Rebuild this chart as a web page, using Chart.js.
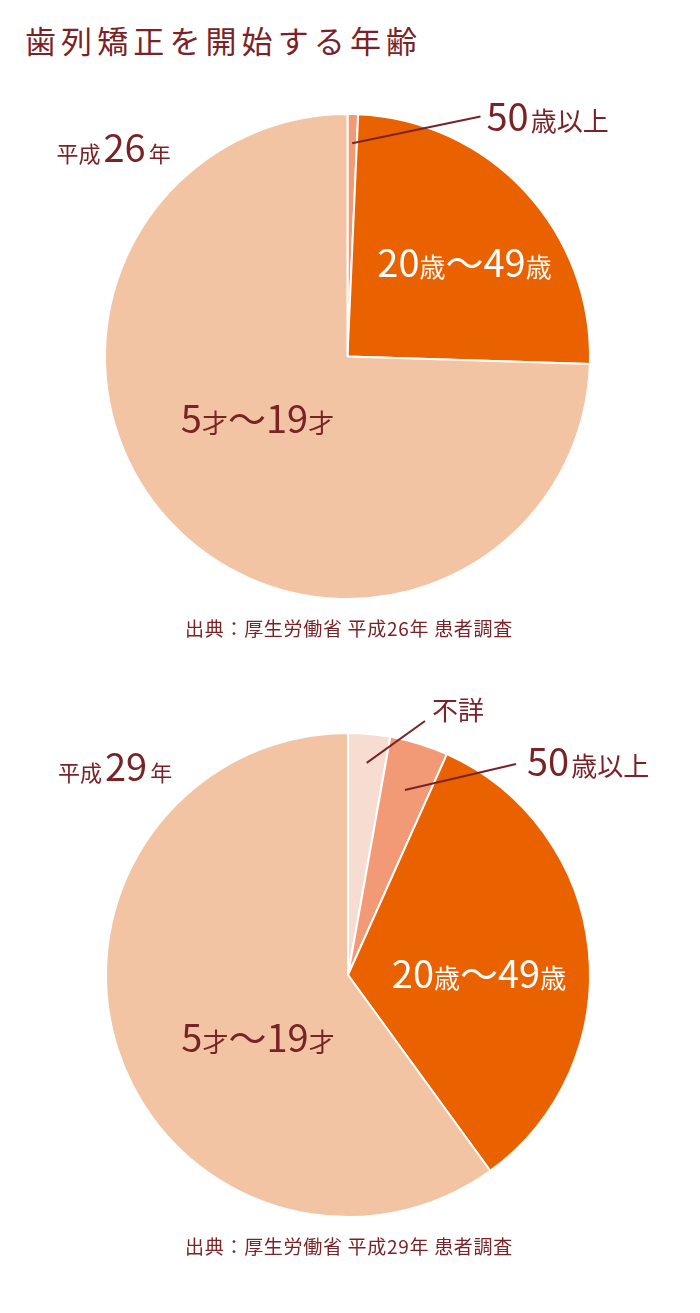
<!DOCTYPE html>
<html lang="ja">
<head>
<meta charset="utf-8">
<title>歯列矯正を開始する年齢</title>
<script src="https://cdn.jsdelivr.net/npm/chart.js@4/dist/chart.umd.min.js"></script>
<style>
  html, body { margin: 0; padding: 0; background: #fff; }
  body { width: 700px; height: 1313px; position: relative; overflow: hidden;
         font-family: "Noto Sans CJK JP", "Noto Sans", sans-serif; color: #7a2327; }
  .title { position: absolute; left: 25px; top: 24px; font-size: 31px; line-height: 1;
           letter-spacing: 5.1px; white-space: nowrap; }
  .source { position: absolute; left: 0; width: 698px; text-align: center; font-size: 19px;
            line-height: 1; letter-spacing: 0.7px; white-space: nowrap; }
  .box { position: absolute; left: 0; width: 700px; height: 560px; }
</style>
</head>
<body>
<div class="title">歯列矯正を開始する年齢</div>

<div class="box" style="top:60px"><canvas id="pie26"></canvas></div>
<div class="source" style="top:618px">出典：厚生労働省 平成26年 患者調査</div>

<div class="box" style="top:680px"><canvas id="pie29"></canvas></div>
<div class="source" style="top:1236px">出典：厚生労働省 平成29年 患者調査</div>

<script>
// data (percent, clockwise from 12 o'clock)
const labels26 = ["50歳以上", "20歳〜49歳", "5才〜19才"];
const values26 = [0.7, 24.8, 74.5];
const colors26 = ["#f29a76", "#ea6100", "#f2c4a3"];

const labels29 = ["不詳", "50歳以上", "20歳〜49歳", "5才〜19才"];
const values29 = [2.8, 3.9, 33.3, 60.0];
const colors29 = ["#f6dcd1", "#f29a76", "#ea6100", "#f2c4a3"];

const textColor = "#7a2327";
const fontFamily = '"Noto Sans CJK JP", "Noto Sans", sans-serif';

// text pieces: [text, font size]
const BIG = 38, SMALL = 26;
const ageMid = [["20", BIG], ["歳", SMALL], ["〜", BIG], ["49", BIG], ["歳", SMALL]];
const ageYoung = [["5", BIG], ["才", SMALL], ["〜", BIG], ["19", BIG], ["才", SMALL]];
const ageOld = [["50", BIG], ["歳以上", SMALL]];

// label placement, offsets measured from the pie centre
const notes26 = [
    { parts: [["平成", 22], ["26", BIG], ["年", 22]], dx: -291, dy: -195, align: "left", gap: 3 },
    { parts: ageOld, dx: 139, dy: -226, align: "left", gap: 2, line: { index: 0, r: 0.88, dx: 133, dy: -240 } },
    { parts: ageMid, dx: 117, dy: -80, align: "center", color: "#fff" },
    { parts: ageYoung, dx: -90, dy: 76, align: "center" }
];
const notes29 = [
    { parts: [["平成", 22], ["29", BIG], ["年", 22]], dx: -290, dy: -194, align: "left", gap: 3 },
    { parts: [["不詳", SMALL]], dx: 84, dy: -255, align: "left", line: { index: 0, r: 0.88, dx: 77, dy: -254 } },
    { parts: ageOld, dx: 179, dy: -199, align: "left", gap: 2, line: { index: 1, r: 0.80, dx: 168, dy: -211 } },
    { parts: ageMid, dx: 131, dy: 13, align: "center", color: "#fff" },
    { parts: ageYoung, dx: -90, dy: 77, align: "center" }
];

// draws the slice names and leader lines
const pieNotes = {
    id: "pieNotes",
    afterDatasetsDraw(chart, args, opts) {
        const ctx = chart.ctx;
        const arcs = chart.getDatasetMeta(0).data;
        const cx = arcs[0].x, cy = arcs[0].y;
        ctx.save();
        opts.notes.forEach(n => {
            if (n.line) {
                const arc = arcs[n.line.index];
                const mid = (arc.startAngle + arc.endAngle) / 2;
                const r = arc.outerRadius * n.line.r;
                ctx.beginPath();
                ctx.moveTo(cx + Math.cos(mid) * r, cy + Math.sin(mid) * r);
                ctx.lineTo(cx + n.line.dx, cy + n.line.dy);
                ctx.strokeStyle = textColor;
                ctx.lineWidth = 2;
                ctx.stroke();
            }
            const gap = n.gap || 0;
            const widths = n.parts.map(([t, s]) => {
                ctx.font = s + "px " + fontFamily;
                return ctx.measureText(t).width;
            });
            const total = widths.reduce((a, b) => a + b, 0) + gap * (n.parts.length - 1);
            let x = cx + n.dx - (n.align === "center" ? total / 2 : 0);
            const y = cy + n.dy;
            ctx.fillStyle = n.color || textColor;
            ctx.textAlign = "left";
            ctx.textBaseline = "alphabetic";
            n.parts.forEach(([t, s], i) => {
                ctx.font = s + "px " + fontFamily;
                ctx.fillText(t, x, y);
                x += widths[i] + gap;
            });
        });
        ctx.restore();
    }
};

function makePie(id, labels, values, colors, notes, pad) {
    return new Chart(document.getElementById(id), {
        type: "pie",
        data: {
            labels: labels,
            datasets: [{
                data: values,
                backgroundColor: colors,
                borderColor: "#fff",
                borderWidth: 2
            }]
        },
        options: {
            responsive: true,
            maintainAspectRatio: false,
            animation: false,
            layout: { padding: pad },
            plugins: {
                legend: { display: false },
                tooltip: { enabled: false },
                pieNotes: { notes: notes }
            }
        },
        plugins: [pieNotes]
    });
}

makePie("pie26", labels26, values26, colors26, notes26, { left: 104, right: 109, top: 53, bottom: 20 });
makePie("pie29", labels29, values29, colors29, notes29, { left: 105, right: 109, top: 52, bottom: 22 });
</script>
</body>
</html>
